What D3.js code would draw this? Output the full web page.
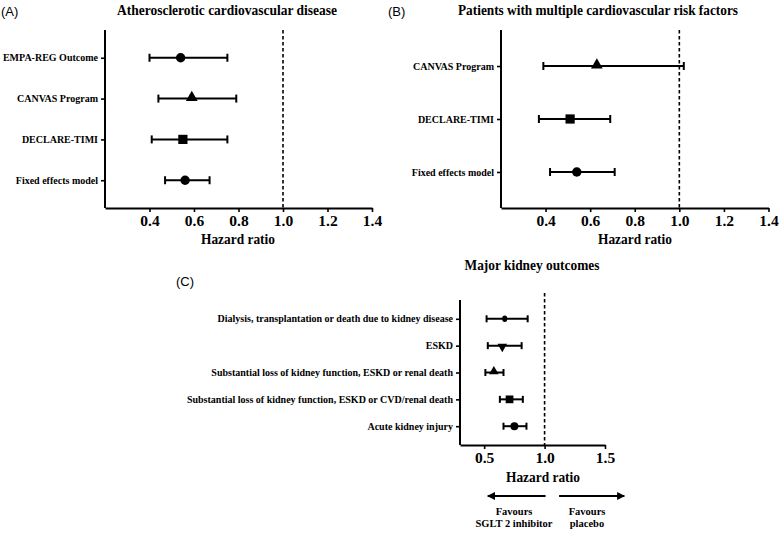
<!DOCTYPE html>
<html>
<head>
<meta charset="utf-8">
<script src="https://cdn.jsdelivr.net/npm/d3@7"></script>
<style>
  body { margin: 0; background: #fff; }
  svg { display: block; }
  .serif { font-family: "Liberation Serif", "Times New Roman", serif; font-weight: bold; }
  .panel-id { font-family: "Liberation Sans", Arial, sans-serif; font-size: 13px; }
</style>
</head>
<body>
<svg width="780" height="533"></svg>
<script>
// ---- data ----
var ascvdLabels = ["EMPA-REG Outcome", "CANVAS Program", "DECLARE-TIMI", "Fixed effects model"];
var ascvdHR = [0.54, 0.59, 0.55, 0.56];
var ascvdLow = [0.40, 0.44, 0.41, 0.47];
var ascvdHigh = [0.75, 0.79, 0.75, 0.67];
var ascvdShapes = ["circle", "triangle", "square", "circle"];

var riskLabels = ["CANVAS Program", "DECLARE-TIMI", "Fixed effects model"];
var riskHR = [0.63, 0.51, 0.54];
var riskLow = [0.39, 0.37, 0.42];
var riskHigh = [1.02, 0.69, 0.71];
var riskShapes = ["triangle", "square", "circle"];

var kidneyLabels = [
  "Dialysis, transplantation or death due to kidney disease",
  "ESKD",
  "Substantial loss of kidney function, ESKD or renal death",
  "Substantial loss of kidney function, ESKD or CVD/renal death",
  "Acute kidney injury"
];
var kidneyHR = [0.67, 0.65, 0.58, 0.71, 0.75];
var kidneyLow = [0.52, 0.53, 0.51, 0.63, 0.66];
var kidneyHigh = [0.86, 0.81, 0.66, 0.82, 0.85];
var kidneyShapes = ["diamond", "triangleDown", "triangle", "square", "circle"];

var ticksAB = [0.4, 0.6, 0.8, 1.0, 1.2, 1.4];
var ticksC = [0.5, 1.0, 1.5];

var svg = d3.select("svg");

function symbolFor(name, size) {
  var types = {
    circle: d3.symbolCircle,
    square: d3.symbolSquare,
    triangle: d3.symbolTriangle,
    triangleDown: d3.symbolTriangle,
    diamond: d3.symbolCircle
  };
  return d3.symbol().type(types[name]).size(size)();
}

function drawPanel(opt) {
  var g = svg.append("g");
  var x = d3.scaleLinear().domain(opt.xDomain).range([opt.left, opt.right]);
  var y = d3.scalePoint().domain(opt.labels).range([opt.top, opt.bottom]).padding(opt.pad);

  var rows = opt.labels.map(function (d, i) {
    return { label: d, hr: opt.hr[i], lo: opt.lo[i], hi: opt.hi[i], shape: opt.shapes[i] };
  });

  // reference line at 1
  g.append("line")
    .attr("x1", x(1)).attr("x2", x(1))
    .attr("y1", opt.refTop).attr("y2", opt.bottom)
    .attr("stroke", "#000").attr("stroke-width", 1.6)
    .attr("stroke-dasharray", "3.5,2.5");

  // x axis
  var xa = g.append("g")
    .attr("transform", "translate(0," + opt.bottom + ")")
    .call(d3.axisBottom(x).tickValues(opt.ticks).tickSize(4).tickSizeOuter(0).tickPadding(3)
      .tickFormat(d3.format(".1f")));
  xa.select(".domain").attr("stroke-width", 2);
  xa.selectAll(".tick line").attr("stroke-width", 1.6);
  xa.selectAll("text").attr("class", "serif").attr("font-size", "15.5px").attr("fill", "#000");

  // y axis
  var ya = g.append("g")
    .attr("transform", "translate(" + opt.left + ",0)")
    .call(d3.axisLeft(y).tickSize(4).tickSizeOuter(0).tickPadding(3));
  ya.select(".domain").attr("d", "M0," + opt.top + "V" + opt.bottom).attr("stroke-width", 2);
  ya.selectAll(".tick line").attr("stroke-width", 1.6);
  ya.selectAll("text").attr("class", "serif").attr("font-size", opt.labelSize).attr("fill", "#000");

  // error bars
  var bars = g.selectAll(".ci").data(rows).enter().append("g").attr("class", "ci");
  bars.append("line")
    .attr("x1", function (d) { return x(d.lo); })
    .attr("x2", function (d) { return x(d.hi); })
    .attr("y1", function (d) { return y(d.label); })
    .attr("y2", function (d) { return y(d.label); })
    .attr("stroke", "#000").attr("stroke-width", 2);
  ["lo", "hi"].forEach(function (k) {
    bars.append("line")
      .attr("x1", function (d) { return x(d[k]); })
      .attr("x2", function (d) { return x(d[k]); })
      .attr("y1", function (d) { return y(d.label) - opt.cap; })
      .attr("y2", function (d) { return y(d.label) + opt.cap; })
      .attr("stroke", "#000").attr("stroke-width", 2);
  });

  // markers
  g.selectAll(".pt").data(rows).enter().append("path")
    .attr("class", "pt")
    .attr("d", function (d) { return symbolFor(d.shape, opt.sizes[d.shape]); })
    .attr("transform", function (d) {
      var r = d.shape === "triangleDown" ? " rotate(180)" : (d.shape === "diamond" ? " scale(0.85,1.1)" : "");
      var dy = d.shape === "triangle" ? -1 : (d.shape === "triangleDown" ? 1 : 0);
      return "translate(" + x(d.hr) + "," + (y(d.label) + dy) + ")" + r;
    })
    .attr("fill", "#000");

  // title
  g.append("text").attr("class", "serif")
    .attr("x", opt.titleX).attr("y", opt.titleY)
    .attr("text-anchor", "middle").attr("font-size", "14px")
    .attr("textLength", opt.titleLen).attr("lengthAdjust", "spacingAndGlyphs")
    .text(opt.title);

  // axis title
  g.append("text").attr("class", "serif")
    .attr("x", opt.xTitleX).attr("y", opt.xTitleY)
    .attr("text-anchor", "middle").attr("font-size", "15.5px")
    .attr("textLength", 74).attr("lengthAdjust", "spacingAndGlyphs")
    .text("Hazard ratio");

  g.append("text").attr("class", "panel-id")
    .attr("x", opt.idX).attr("y", opt.idY)
    .text(opt.id);

  return x;
}

drawPanel({
  id: "(A)", idX: 1, idY: 16,
  title: "Atherosclerotic cardiovascular disease", titleX: 227, titleY: 15, titleLen: 220,
  labels: ascvdLabels, hr: ascvdHR, lo: ascvdLow, hi: ascvdHigh, shapes: ascvdShapes,
  xDomain: [0.2, 1.4], ticks: ticksAB,
  left: 105, right: 372, top: 30, bottom: 208, refTop: 30, pad: 0.68,
  labelSize: "10px", cap: 4,
  sizes: { circle: 70, triangle: 60, square: 85 },
  xTitleX: 238, xTitleY: 244
});

drawPanel({
  id: "(B)", idX: 388, idY: 16,
  title: "Patients with multiple cardiovascular risk factors", titleX: 598, titleY: 15, titleLen: 280,
  labels: riskLabels, hr: riskHR, lo: riskLow, hi: riskHigh, shapes: riskShapes,
  xDomain: [0.2, 1.4], ticks: ticksAB,
  left: 501, right: 768.5, top: 30, bottom: 208, refTop: 30, pad: 0.68,
  labelSize: "10px", cap: 4,
  sizes: { circle: 70, triangle: 60, square: 85 },
  xTitleX: 635, xTitleY: 244
});

var xC = drawPanel({
  id: "(C)", idX: 176, idY: 286,
  title: "Major kidney outcomes", titleX: 532, titleY: 270, titleLen: 135,
  labels: kidneyLabels, hr: kidneyHR, lo: kidneyLow, hi: kidneyHigh, shapes: kidneyShapes,
  xDomain: [0.3, 1.5], ticks: ticksC,
  left: 460, right: 605, top: 300, bottom: 445, refTop: 293, pad: 0.7,
  labelSize: "10px", cap: 3.5,
  sizes: { circle: 50, triangle: 40, square: 60, triangleDown: 40, diamond: 28 },
  xTitleX: 543, xTitleY: 482
});

// favours arrows below panel C
var defs = svg.append("defs");
defs.append("marker").attr("id", "arrow")
  .attr("viewBox", "0 0 10 10").attr("refX", 9).attr("refY", 5)
  .attr("markerWidth", 4).attr("markerHeight", 4).attr("orient", "auto")
  .append("path").attr("d", "M0,0L10,5L0,10Z").attr("fill", "#000");

var arrowY = 496;
svg.append("line")
  .attr("x1", xC(1.0) + 1).attr("x2", xC(0.53))
  .attr("y1", arrowY).attr("y2", arrowY)
  .attr("stroke", "#000").attr("stroke-width", 2).attr("marker-end", "url(#arrow)");
svg.append("line")
  .attr("x1", xC(1.12)).attr("x2", xC(1.66))
  .attr("y1", arrowY).attr("y2", arrowY)
  .attr("stroke", "#000").attr("stroke-width", 2).attr("marker-end", "url(#arrow)");

var favLeft = ["Favours", "SGLT 2 inhibitor"];
var favRight = ["Favours", "placebo"];
[[favLeft, 514], [favRight, 587]].forEach(function (p) {
  svg.append("text").attr("class", "serif")
    .attr("x", p[1]).attr("y", 515).attr("text-anchor", "middle").attr("font-size", "10.5px")
    .selectAll("tspan").data(p[0]).enter().append("tspan")
    .attr("x", p[1]).attr("dy", function (d, i) { return i === 0 ? 0 : 12; })
    .text(function (d) { return d; });
});
</script>
</body>
</html>
